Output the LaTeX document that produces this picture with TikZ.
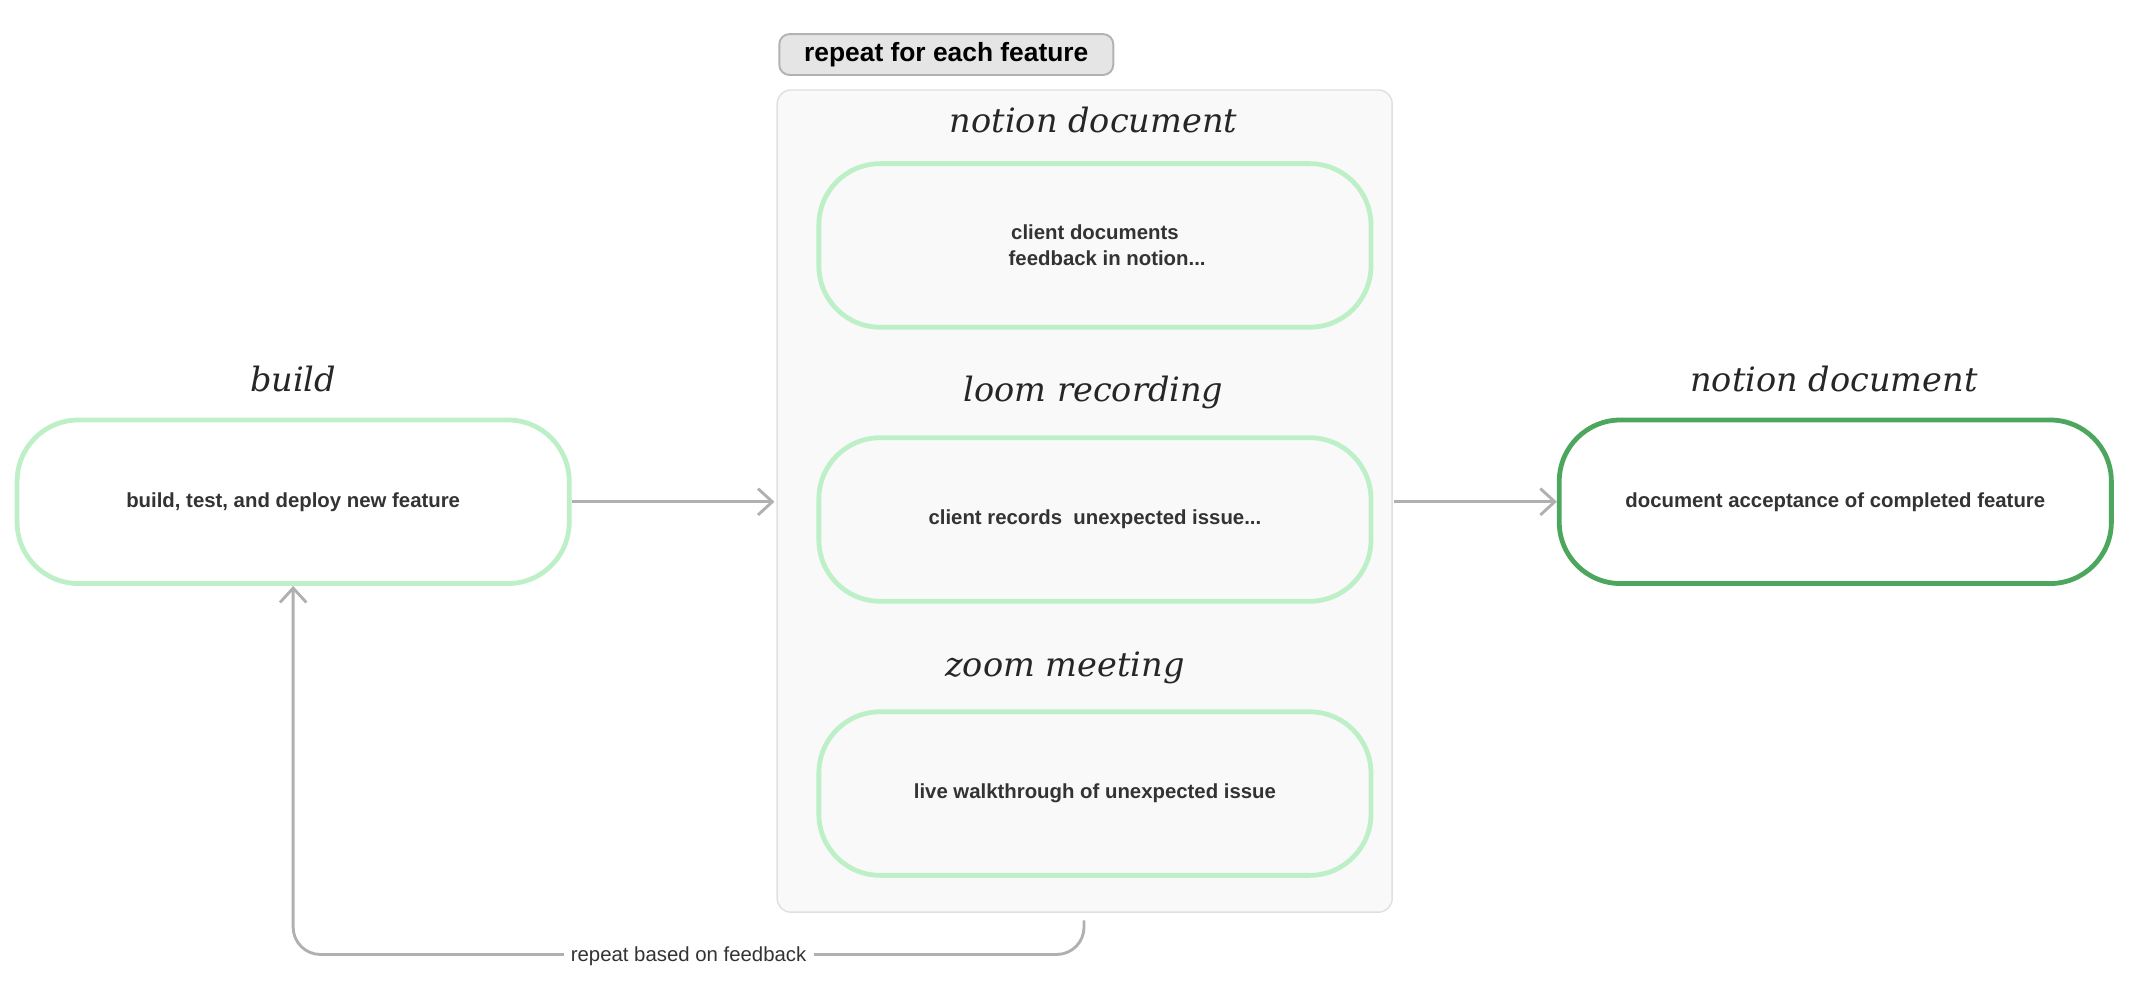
\documentclass[tikz,border=0pt]{standalone}
\usepackage{fontspec}
\setmainfont{Liberation Sans}
\newfontfamily\hand{DejaVu Serif}
\usetikzlibrary{positioning,arrows.meta}
\definecolor{lightgreen}{HTML}{BEF0C8}
\definecolor{darkgreen}{HTML}{4CA65E}
\definecolor{linegray}{HTML}{B0B0B0}
\begin{document}
\begin{tikzpicture}[x=0.02cm, y=-0.02cm, thick,
		main node/.style={draw=lightgreen, line width=2pt, rounded corners=0.9cm, fill=white, minimum width=8.1cm, minimum height=2.4cm, align=center, font=\fontsize{8.5}{11}\selectfont\bfseries, text=black!80},
		inner node/.style={main node, fill=none},
		title/.style={font=\hand\itshape\fontsize{14}{17}\selectfont, text=black!85},
		link/.style={draw=linegray, line width=1.2pt, -{Straight Barb[length=6pt,width=11pt]}}]
			
			\useasboundingbox (0,0) rectangle (1568,739);
			
			% container for the feedback channels
			\draw[draw=black!12, fill=black!2.5, rounded corners=0.2cm, line width=0.6pt] (570,66) rectangle (1021,669);
			\node[draw=black!30, fill=black!10, rounded corners=0.15cm, line width=0.8pt, minimum width=4.9cm, minimum height=0.6cm, font=\fontsize{11}{13}\selectfont\bfseries] (repeat) at (694,40) {repeat for each feature};
			
			\node[main node] (build) at (215,368) {build, test, and deploy new feature};
			\node[inner node] (notion) at (803,180) {client documents\\\hspace{1.2em}feedback in notion...};
			\node[inner node] (loom) at (803,381) {client records\ \ unexpected issue...};
			\node[inner node] (zoom) at (803,582) {live walkthrough of unexpected issue};
			\node[main node, draw=darkgreen] (accept) at (1346,368) {document acceptance of completed feature};
			
			\node[title] (t1) at (215,278) {build};
			\node[title] (t2) at (802,88) {notion document};
			\node[title] (t3) at (802,288) {loom recording};
			\node[title] (t4) at (781,490) {zoom meeting};
			\node[title] (t5) at (1345,278) {notion document};
			
			\coordinate (in) at (568,368);
			\coordinate (out) at (1022,368);
			\coordinate (back) at (795,675);
			
			\draw[link] (build) -- (in);
			\draw[link] (out) -- (accept);
			\draw[link, rounded corners=0.4cm] (back) -- (795,700) -- (215,700) -- (build.south);
			\node[fill=white, inner sep=3pt, font=\fontsize{8.5}{11}\selectfont, text=black!80] (fb) at (505,701) {repeat based on feedback};
			\end{tikzpicture}
\end{document}
